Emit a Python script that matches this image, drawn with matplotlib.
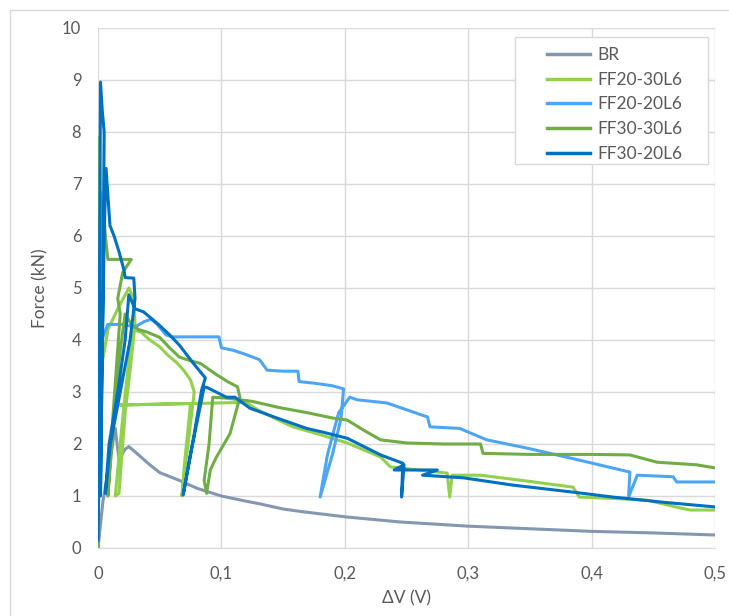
"""
Force vs. voltage change for BR and FF specimens.
"""

import matplotlib
matplotlib.use('Agg')
import matplotlib.pyplot as plt
from matplotlib.patches import Rectangle

# Data (x = dV in V, y = force in kN)
br_x = [0, 0.004, 0.009, 0.014, 0.017, 0.022, 0.025, 0.03, 0.042, 0.05, 0.066, 0.08, 0.1,
        0.12, 0.131, 0.15, 0.165, 0.2, 0.245, 0.3, 0.35, 0.4, 0.45, 0.5]
br_y = [0, 0.9, 1.6, 2.3, 1.7, 1.9, 1.95, 1.85, 1.6, 1.45, 1.3, 1.15, 1.0,
        0.9, 0.85, 0.75, 0.7, 0.6, 0.5, 0.42, 0.37, 0.32, 0.29, 0.25]

ff2030_x = [0, 0.0005, 0.001, 0.002, 0.0015, 0.001, 0.003, 0.008, 0.016, 0.025,
            0.029, 0.03, 0.025, 0.022, 0.017, 0.014, 0.02, 0.025, 0.028, 0.035, 0.042,
            0.05, 0.057, 0.064, 0.07, 0.075, 0.078, 0.075, 0.071, 0.068, 0.07, 0.073,
            0.075, 0.018, 0.12, 0.13, 0.147, 0.158, 0.18, 0.202, 0.229, 0.237, 0.26,
            0.283, 0.285, 0.287, 0.31, 0.35, 0.385, 0.39, 0.42, 0.445, 0.47, 0.48, 0.5]
ff2030_y = [0, 3.0, 7.9, 6.5, 3.0, 1.0, 3.5, 4.2, 4.6, 5.0,
            4.8, 4.3, 3.2, 2.6, 1.05, 1.0, 2.5, 3.6, 4.2, 4.15, 4.0,
            3.87, 3.7, 3.56, 3.4, 3.23, 3.0, 2.4, 1.6, 1.0, 1.6, 2.3,
            2.78, 2.75, 2.8, 2.65, 2.45, 2.33, 2.18, 2.02, 1.75, 1.56, 1.5,
            1.44, 0.98, 1.4, 1.4, 1.28, 1.17, 0.98, 0.95, 0.92, 0.78, 0.73, 0.73]

ff2020_x = [0, 0.001, 0.003, 0.008, 0.02, 0.03, 0.037, 0.043, 0.048, 0.055, 0.06,
            0.098, 0.1, 0.11, 0.12, 0.131, 0.137, 0.15, 0.162, 0.163, 0.175, 0.19,
            0.199, 0.197, 0.19, 0.18, 0.186, 0.195, 0.204, 0.21, 0.234, 0.267, 0.269,
            0.293, 0.315, 0.348, 0.39, 0.431, 0.43, 0.437, 0.466, 0.469, 0.5]
ff2020_y = [0, 2.0, 4.0, 4.3, 4.3, 4.25, 4.35, 4.4, 4.3, 4.1, 4.06,
            4.06, 3.85, 3.8, 3.72, 3.62, 3.42, 3.4, 3.4, 3.2, 3.17, 3.12,
            3.06, 2.5, 1.8, 0.98, 1.8, 2.6, 2.9, 2.85, 2.79, 2.52, 2.33,
            2.3, 2.08, 1.92, 1.69, 1.46, 0.98, 1.4, 1.37, 1.27, 1.27]

ff3030_x = [0, 0.001, 0.002, 0.0035, 0.003, 0.0015, 0.001, 0.0025, 0.005, 0.006, 0.008,
            0.027, 0.02, 0.016, 0.018, 0.012, 0.008, 0.013, 0.018, 0.022, 0.027, 0.033,
            0.04, 0.05, 0.058, 0.066, 0.075, 0.083, 0.095, 0.105, 0.113, 0.115, 0.107,
            0.096, 0.091, 0.088, 0.086, 0.09, 0.093, 0.105, 0.125, 0.147, 0.17, 0.19,
            0.202, 0.215, 0.229, 0.25, 0.28, 0.31, 0.312, 0.35, 0.4, 0.431, 0.453,
            0.485, 0.5]
ff3030_y = [0, 3.0, 6.85, 6.4, 4.0, 2.0, 1.0, 3.5, 6.3, 6.0, 5.55,
            5.55, 5.3, 4.8, 4.5, 2.5, 1.0, 2.5, 3.8, 4.5, 4.3, 4.2,
            4.15, 4.05, 3.85, 3.67, 3.6, 3.55, 3.35, 3.2, 3.1, 2.9, 2.2,
            1.75, 1.5, 1.05, 1.3, 2.0, 2.9, 2.88, 2.82, 2.7, 2.6, 2.5,
            2.46, 2.27, 2.08, 2.02, 2.0, 2.0, 1.82, 1.8, 1.8, 1.79, 1.65,
            1.6, 1.54]

ff3020_x = [0, 0.0005, 0.0012, 0.002, 0.0035, 0.005, 0.004, 0.002, 0.003, 0.005,
            0.0065, 0.0097, 0.013, 0.017, 0.021, 0.022, 0.029, 0.03, 0.026,
            0.018, 0.01, 0.006, 0.009, 0.016, 0.022, 0.025, 0.03, 0.037, 0.049,
            0.058, 0.066, 0.077, 0.087, 0.084, 0.078, 0.069, 0.075, 0.086, 0.089,
            0.104, 0.111, 0.123, 0.145, 0.169, 0.182, 0.202, 0.229, 0.247, 0.246,
            0.248, 0.24, 0.275, 0.263, 0.296, 0.336, 0.39, 0.417, 0.458, 0.5]
ff3020_y = [0.15, 1.0, 5.0, 8.96, 8.4, 8.0, 5.0, 1.0, 3.0, 6.0,
            7.3, 6.2, 6.0, 5.7, 5.35, 5.2, 5.19, 4.8, 4.0,
            3.0, 2.0, 1.05, 2.0, 3.0, 4.0, 4.87, 4.6, 4.54, 4.3,
            4.1, 3.9, 3.56, 3.27, 3.04, 2.2, 1.02, 1.8, 3.1, 3.08,
            2.9, 2.9, 2.69, 2.5, 2.3, 2.23, 2.11, 1.79, 1.63, 0.98,
            1.6, 1.5, 1.5, 1.4, 1.35, 1.21, 1.06, 0.98, 0.88, 0.79]

labels = ['BR', 'FF20-30L6', 'FF20-20L6', 'FF30-30L6', 'FF30-20L6']
colors = ['#8497B0', '#92D050', '#4DA6F5', '#70AD47', '#0070C0']
x_ticks = [0, 0.1, 0.2, 0.3, 0.4, 0.5]
x_tick_labels = ['0', '0,1', '0,2', '0,3', '0,4', '0,5']

plt.rcParams['font.family'] = ['Lato', 'DejaVu Sans']
plt.rcParams['font.size'] = 11

fig = plt.figure(figsize=(7.29, 6.16), dpi=100)
fig.patches.append(Rectangle((10 / 729, -0.05), 1.0, 1.05 - 10 / 616,
                             transform=fig.transFigure, fill=False,
                             edgecolor='#D9D9D9', linewidth=1.0))
ax = fig.add_axes([98 / 729, 1 - 548 / 616, 617 / 729, 520 / 616])

series = [(br_x, br_y), (ff2030_x, ff2030_y), (ff2020_x, ff2020_y),
          (ff3030_x, ff3030_y), (ff3020_x, ff3020_y)]
for (xs, ys), lab, col in zip(series, labels, colors):
    ax.plot(xs, ys, color=col, linewidth=2.2, label=lab, solid_joinstyle='round')

ax.set_xlim(0, 0.5)
ax.set_ylim(0, 10)
ax.set_xticks(x_ticks)
ax.set_xticklabels(x_tick_labels)
ax.set_yticks(range(0, 11))
ax.grid(True, color='#D9D9D9', linewidth=1.0)
ax.set_axisbelow(True)
for s in ['top', 'right', 'left']:
    ax.spines[s].set_visible(False)
ax.spines['bottom'].set_color('#D9D9D9')
ax.tick_params(axis='both', length=0, colors='#595959', labelsize=12)
ax.tick_params(axis='x', pad=13)
ax.tick_params(axis='y', pad=12)
ax.set_xlabel('ΔV (V)', color='#595959', fontsize=12.5, labelpad=6)
ax.set_ylabel('Force (kN)', color='#595959', fontsize=12.5, labelpad=10)

# legend box drawn separately so the wide left margin matches
ax.add_patch(Rectangle((0.676, 0.7385), 0.3127, 0.2442, transform=ax.transAxes,
                       facecolor='white', edgecolor='#D9D9D9', linewidth=1.0,
                       zorder=4))
leg = ax.legend(loc='upper left', bbox_to_anchor=(0.7277, 0.9635), fontsize=12.5,
                handlelength=2.5, handletextpad=0.4, frameon=False,
                borderpad=0, borderaxespad=0, labelspacing=0.5)
leg.set_zorder(5)
for t in leg.get_texts():
    t.set_color('#595959')
for h in leg.get_lines():
    h.set_linewidth(2.5)

fig.savefig('out.png', dpi=100, facecolor='white')
